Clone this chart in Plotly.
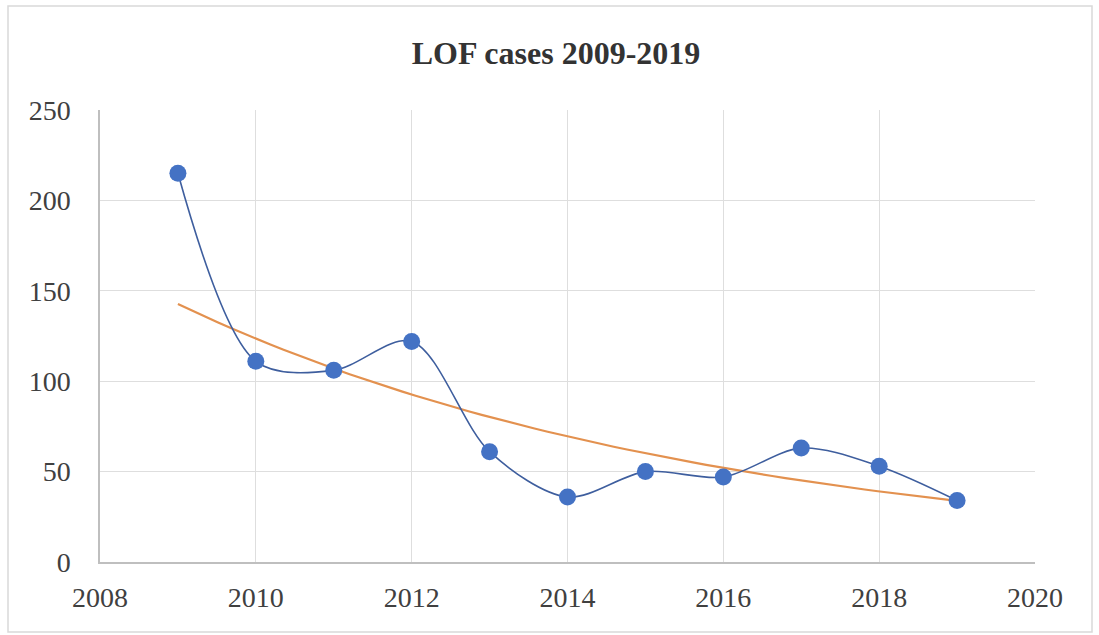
import numpy as np
import plotly.graph_objects as go

years = [2009, 2010, 2011, 2012, 2013, 2014, 2015, 2016, 2017, 2018, 2019]
cases = [215, 111, 106, 122, 61, 36, 50, 47, 63, 53, 34]
title_text = "LOF cases 2009-2019"
x_ticks = [2008, 2010, 2012, 2014, 2016, 2018, 2020]
y_ticks = [0, 50, 100, 150, 200, 250]

# exponential trendline (least-squares on log values, as Excel does)
xa = np.array(years, dtype=float)
coef = np.polyfit(xa, np.log(np.array(cases, dtype=float)), 1)
trend_x = np.linspace(min(years), max(years), 60)
trend_y = np.exp(np.polyval(coef, trend_x))

W, H = 1099, 635
ml, mr, mt, mb = 100, 64, 110, 73
pw, ph = W - ml - mr, H - mt - mb

fig = go.Figure()
fig.add_trace(go.Scatter(
    x=trend_x, y=trend_y, mode="lines",
    line=dict(color="#E3914F", width=2.2),
    hoverinfo="skip", showlegend=False))
fig.add_trace(go.Scatter(
    x=years, y=cases, mode="lines+markers",
    line=dict(color="#3E5E9E", width=1.6, shape="spline", smoothing=0.9),
    marker=dict(color="#4472C4", size=17, line=dict(width=0)),
    showlegend=False))

fig.update_layout(
    width=W, height=H,
    margin=dict(l=ml, r=mr, t=mt, b=mb),
    paper_bgcolor="white", plot_bgcolor="white",
    font=dict(family="Liberation Serif, Times New Roman, serif", size=28, color="#404040"),
    title=dict(text="<b>" + title_text + "</b>", x=556 / W, xanchor="center",
               y=1 - 53 / H, yanchor="middle", yref="container",
               font=dict(size=32, color="#333333")),
    xaxis=dict(range=[2008, 2020], tickvals=x_ticks, showgrid=True,
               gridcolor="#DEDEDE", gridwidth=1.3, showline=True, linecolor="#BFBFBF",
               linewidth=1.5, zeroline=False, ticks="", ticklabelstandoff=10),
    yaxis=dict(range=[0, 250], tickvals=y_ticks, showgrid=True,
               gridcolor="#DEDEDE", gridwidth=1.3, showline=True, linecolor="#BFBFBF",
               linewidth=1.5, zeroline=False, ticks="", ticklabelstandoff=22),
)

# outer chart border
fig.add_shape(type="rect", xref="paper", yref="paper",
              x0=(8 - ml) / pw, x1=(1092 - ml) / pw,
              y0=(H - mb - 632) / ph, y1=(H - mb - 6) / ph,
              line=dict(color="#D9D9D9", width=1.5), layer="below")

fig.write_html("out.html")
